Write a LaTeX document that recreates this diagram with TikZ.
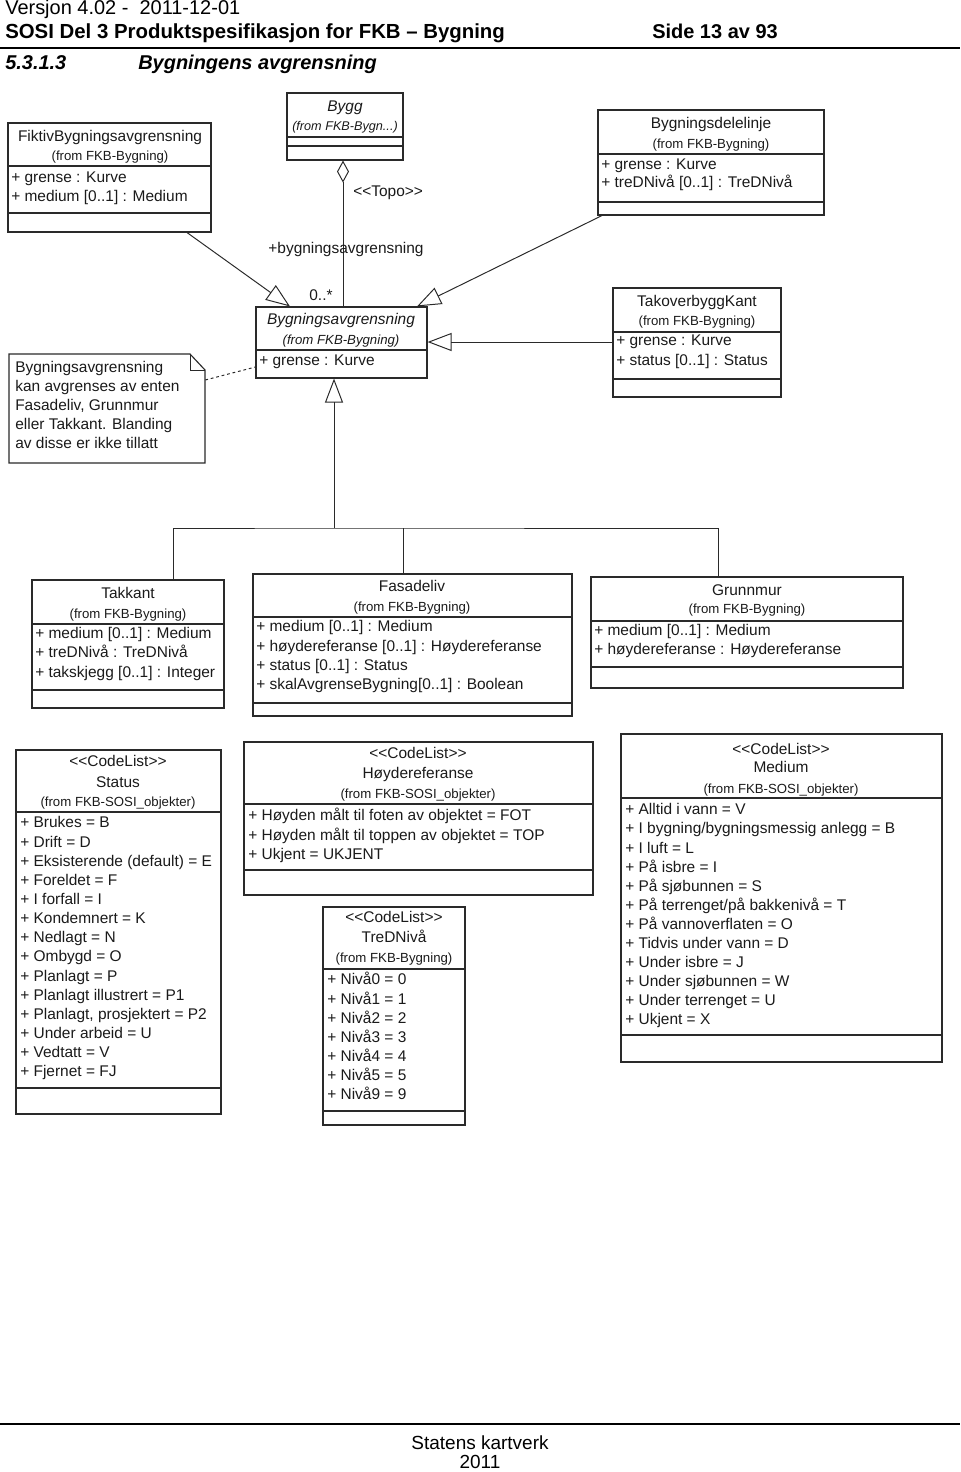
\documentclass[tikz,border=0pt]{standalone}
\usepackage{fontspec}
\setmainfont{Liberation Sans}
\usetikzlibrary{arrows.meta, fit}
\definecolor{umlline}{HTML}{2A2A2A}
\definecolor{umltext}{HTML}{1A1A1A}
\newcommand{\stereo}[1]{<\kern0pt<#1>\kern0pt>}
\newcommand{\sepline}[2]{\draw[divline] (#1.west |- 0,#2) -- (#1.east |- 0,#2);}
\tikzset{
  umlbox/.style={draw=umlline, line width=0.8pt, inner sep=0pt},
  divline/.style={umlline, line width=0.8pt},
  cname/.style={inner sep=0pt, text=umltext, font=\fontsize{11}{13}\selectfont,
    text height=8pt, text depth=2.5pt},
  cfrom/.style={inner sep=0pt, text=umltext, font=\fontsize{9.4}{11}\selectfont,
    text height=6.5pt, text depth=2pt},
  attr/.style={cname, anchor=west},
  gen/.style={umlline, line width=0.7pt, -{Triangle[open, length=0.6cm, width=0.45cm]}},
  agg/.style={umlline, line width=0.7pt, {Diamond[open, length=0.55cm, width=0.3cm]}-},
  pagetext/.style={inner sep=0pt, anchor=base west, font=\fontsize{14.2}{17}\selectfont},
}
\begin{document}
\begin{tikzpicture}[x=0.025cm, y=-0.025cm]
  \useasboundingbox (0,0) rectangle (960,1472);

  % --- page head ------------------------------------------------------------
  \node[pagetext] (version) at (5,15) {Versjon 4.02 -\ \ 2011-12-01};
  \node[pagetext, font=\fontsize{14.5}{17}\selectfont\bfseries] (doctitle) at (5,39)
    {SOSI Del 3 Produktspesifikasjon for FKB – Bygning};
  \node[pagetext, font=\fontsize{14.2}{17}\selectfont\bfseries] (pageno) at (652,39)
    {Side 13 av 93};
  \draw[line width=1pt] (0,48) -- (960,48);
  \node[pagetext, font=\fontsize{14.2}{17}\selectfont\bfseries\itshape] (secno) at (5,70)
    {5.3.1.3};
  \node[pagetext, font=\fontsize{14.2}{17}\selectfont\bfseries\itshape] (sectitle) at (138,70)
    {Bygningens avgrensning};

  % --- Bygg ---------------------------------------------------------------
  \node[umlbox, fit={(287,93) (403,160)}] (bygg) {};
  \sepline{bygg}{137}
  \sepline{bygg}{146}
  \node[cname, font=\fontsize{11}{13}\selectfont\itshape] (bygg-name) at (345,108) {Bygg};
  \node[cfrom, font=\fontsize{9}{10}\selectfont\itshape] (bygg-from) at (345,127) {(from FKB-Bygn...)};

  % --- FiktivBygningsavgrensning --------------------------------------------
  \node[umlbox, fit={(8,123) (211,232)}] (fiktiv) {};
  \sepline{fiktiv}{166}
  \sepline{fiktiv}{213}
  \node[cname] (fiktiv-name) at (110,138) {FiktivBygningsavgrensning};
  \node[cfrom] (fiktiv-from) at (110,157) {(from FKB-Bygning)};
  \node[attr] (fiktiv-a1) at (11,179) {+ grense : Kurve};
  \node[attr] (fiktiv-a2) at (11,198) {+ medium [0..1] : Medium};

  % --- Bygningsdelelinje ----------------------------------------------------
  \node[umlbox, fit={(598,110) (824,215)}] (delelinje) {};
  \sepline{delelinje}{154}
  \sepline{delelinje}{202}
  \node[cname] (delelinje-name) at (711,125) {Bygningsdelelinje};
  \node[cfrom] (delelinje-from) at (711,145) {(from FKB-Bygning)};
  \node[attr] (delelinje-a1) at (601,166) {+ grense : Kurve};
  \node[attr] (delelinje-a2) at (601,184) {+ treDNivå [0..1] : TreDNivå};

  % --- Bygningsavgrensning (abstract) ---------------------------------------
  \node[umlbox, fit={(256,307) (427,378)}] (bygavg) {};
  \sepline{bygavg}{350}
  \node[cname, font=\fontsize{11}{13}\selectfont\itshape] (bygavg-name) at (341,321) {Bygningsavgrensning};
  \node[cfrom, font=\fontsize{9.4}{11}\selectfont\itshape] (bygavg-from) at (341,341) {(from FKB-Bygning)};
  \node[attr] (bygavg-a1) at (259,362) {+ grense : Kurve};

  % --- TakoverbyggKant ------------------------------------------------------
  \node[umlbox, fit={(613,288) (781,397)}] (takoverbygg) {};
  \sepline{takoverbygg}{332}
  \sepline{takoverbygg}{379}
  \node[cname] (takoverbygg-name) at (697,303) {TakoverbyggKant};
  \node[cfrom] (takoverbygg-from) at (697,322) {(from FKB-Bygning)};
  \node[attr] (takoverbygg-a1) at (616,342) {+ grense : Kurve};
  \node[attr] (takoverbygg-a2) at (616,362) {+ status [0..1] : Status};

  % --- note -----------------------------------------------------------------
  \node[inner sep=0pt, fit={(9,354) (205,463)}] (note) {};
  \draw[divline] (9,354) -- (190,354) -- (205,370) -- (205,463) -- (9,463) -- cycle;
  \draw[divline, line width=0.6pt] (190,354) -- (190,370) -- (205,370);
  \node[inner sep=0pt, anchor=north west, align=left, text=umltext,
    font=\fontsize{11}{13.6}\selectfont] (note-text) at (15,361)
    {Bygningsavgrensning\\kan avgrenses av enten\\Fasadeliv, Grunnmur\\eller Takkant. Blanding\\av disse er ikke tillatt};
  \draw[umlline, line width=0.7pt, dash pattern=on 2pt off 2pt]
    (note.east |- 0,380) -- (bygavg.west |- 0,367);

  % --- associations into Bygningsavgrensning --------------------------------
  \draw[agg] (bygg.south -| 343,0) -- (bygavg.north -| 343,0);
  \node[cname, anchor=west] (topo) at (353,193) {\stereo{Topo}};
  \node[cname] (rolle) at (346,250) {+bygningsavgrensning};
  \node[cname] (mult) at (321,297) {0..*};
  \draw[gen] (fiktiv.south -| 187,0) -- (bygavg.north -| 290,0);
  \draw[gen] (delelinje.south -| 602,0) -- (bygavg.north -| 417,0);
  \draw[gen] (takoverbygg.west |- 0,342) -- (bygavg.east |- 0,342);

  % --- Takkant, Fasadeliv, Grunnmur -----------------------------------------
  \node[umlbox, fit={(32,580) (224,708)}] (takkant) {};
  \sepline{takkant}{624}
  \sepline{takkant}{690}
  \node[cname] (takkant-name) at (128,595) {Takkant};
  \node[cfrom] (takkant-from) at (128,615) {(from FKB-Bygning)};
  \node[attr] (takkant-a1) at (35,635) {+ medium [0..1] : Medium};
  \node[attr] (takkant-a2) at (35,654) {+ treDNivå : TreDNivå};
  \node[attr] (takkant-a3) at (35,674) {+ takskjegg [0..1] : Integer};

  \node[umlbox, fit={(253,574) (572,716)}] (fasadeliv) {};
  \sepline{fasadeliv}{617}
  \sepline{fasadeliv}{703}
  \node[cname] (fasadeliv-name) at (412,588) {Fasadeliv};
  \node[cfrom] (fasadeliv-from) at (412,608) {(from FKB-Bygning)};
  \node[attr] (fasadeliv-a1) at (256,628) {+ medium [0..1] : Medium};
  \node[attr] (fasadeliv-a2) at (256,648) {+ høydereferanse [0..1] : Høydereferanse};
  \node[attr] (fasadeliv-a3) at (256,667) {+ status [0..1] : Status};
  \node[attr] (fasadeliv-a4) at (256,686) {+ skalAvgrenseBygning[0..1] : Boolean};

  \node[umlbox, fit={(591,577) (903,688)}] (grunnmur) {};
  \sepline{grunnmur}{621}
  \sepline{grunnmur}{667}
  \node[cname] (grunnmur-name) at (747,592) {Grunnmur};
  \node[cfrom] (grunnmur-from) at (747,610) {(from FKB-Bygning)};
  \node[attr] (grunnmur-a1) at (594,632) {+ medium [0..1] : Medium};
  \node[attr] (grunnmur-a2) at (594,651) {+ høydereferanse : Høydereferanse};

  % generalisation tree
  \coordinate (tree) at (334,528);
  \draw[gen] (tree) -- (bygavg.south -| tree);
  \draw[umlline, line width=0.7pt] (takkant.north -| 173,0) |- (tree) -| (grunnmur.north -| 718,0);
  \draw[umlline, line width=0.7pt] (fasadeliv.north -| 403,0) -- (tree -| 403,0);

  % --- code lists -----------------------------------------------------------
  \node[umlbox, fit={(16,750) (221,1114)}] (status) {};
  \sepline{status}{812}
  \sepline{status}{1088}
  \node[cname] (status-st) at (118,763) {\stereo{CodeList}};
  \node[cname] (status-name) at (118,784) {Status};
  \node[cfrom] (status-from) at (118,803) {(from FKB-SOSI\_objekter)};
  \foreach \t [count=\i from 0] in {{+ Brukes = B}, {+ Drift = D},
      {+ Eksisterende (default) = E}, {+ Foreldet = F}, {+ I forfall = I},
      {+ Kondemnert = K}, {+ Nedlagt = N}, {+ Ombygd = O}, {+ Planlagt = P},
      {+ Planlagt illustrert = P1}, {+ Planlagt, prosjektert = P2},
      {+ Under arbeid = U}, {+ Vedtatt = V}, {+ Fjernet = FJ}}
    \node[attr] (status-\i) at (20,{824+19.15*\i}) {\t};

  \node[umlbox, fit={(244,742) (593,895)}] (hoyde) {};
  \sepline{hoyde}{804}
  \sepline{hoyde}{870}
  \node[cname] (hoyde-st) at (418,755) {\stereo{CodeList}};
  \node[cname] (hoyde-name) at (418,775) {Høydereferanse};
  \node[cfrom] (hoyde-from) at (418,795) {(from FKB-SOSI\_objekter)};
  \foreach \t [count=\i from 0] in {{+ Høyden målt til foten av objektet = FOT},
      {+ Høyden målt til toppen av objektet = TOP}, {+ Ukjent = UKJENT}}
    \node[attr] (hoyde-\i) at (248,{817+19.2*\i}) {\t};

  \node[umlbox, fit={(323,907) (465,1125)}] (tredniva) {};
  \sepline{tredniva}{969}
  \sepline{tredniva}{1111}
  \node[cname] (tredniva-st) at (394,919) {\stereo{CodeList}};
  \node[cname] (tredniva-name) at (394,939) {TreDNivå};
  \node[cfrom] (tredniva-from) at (394,959) {(from FKB-Bygning)};
  \foreach \t [count=\i from 0] in {0,1,2,3,4,5,9}
    \node[attr] (tredniva-\i) at (327,{981+19.17*\i}) {+ Nivå\t{} = \t};

  \node[umlbox, fit={(621,734) (942,1062)}] (medium) {};
  \sepline{medium}{798}
  \sepline{medium}{1035}
  \node[cname] (medium-st) at (781,751) {\stereo{CodeList}};
  \node[cname] (medium-name) at (781,769) {Medium};
  \node[cfrom] (medium-from) at (781,790) {(from FKB-SOSI\_objekter)};
  \foreach \t [count=\i from 0] in {{+ Alltid i vann = V},
      {+ I bygning/bygningsmessig anlegg = B}, {+ I luft = L}, {+ På isbre = I},
      {+ På sjøbunnen = S}, {+ På terrenget/på bakkenivå = T},
      {+ På vannoverflaten = O}, {+ Tidvis under vann = D}, {+ Under isbre = J},
      {+ Under sjøbunnen = W}, {+ Under terrenget = U}, {+ Ukjent = X}}
    \node[attr] (medium-\i) at (625,{811+19.1*\i}) {\t};

  % --- page foot ------------------------------------------------------------
  \draw[line width=1pt] (0,1424) -- (960,1424);
  \node[inner sep=0pt, font=\fontsize{13.5}{16}\selectfont] (publisher) at (480,1443) {Statens kartverk};
  \node[inner sep=0pt, font=\fontsize{13.5}{16}\selectfont] (year) at (480,1462) {2011};
\end{tikzpicture}
\end{document}
